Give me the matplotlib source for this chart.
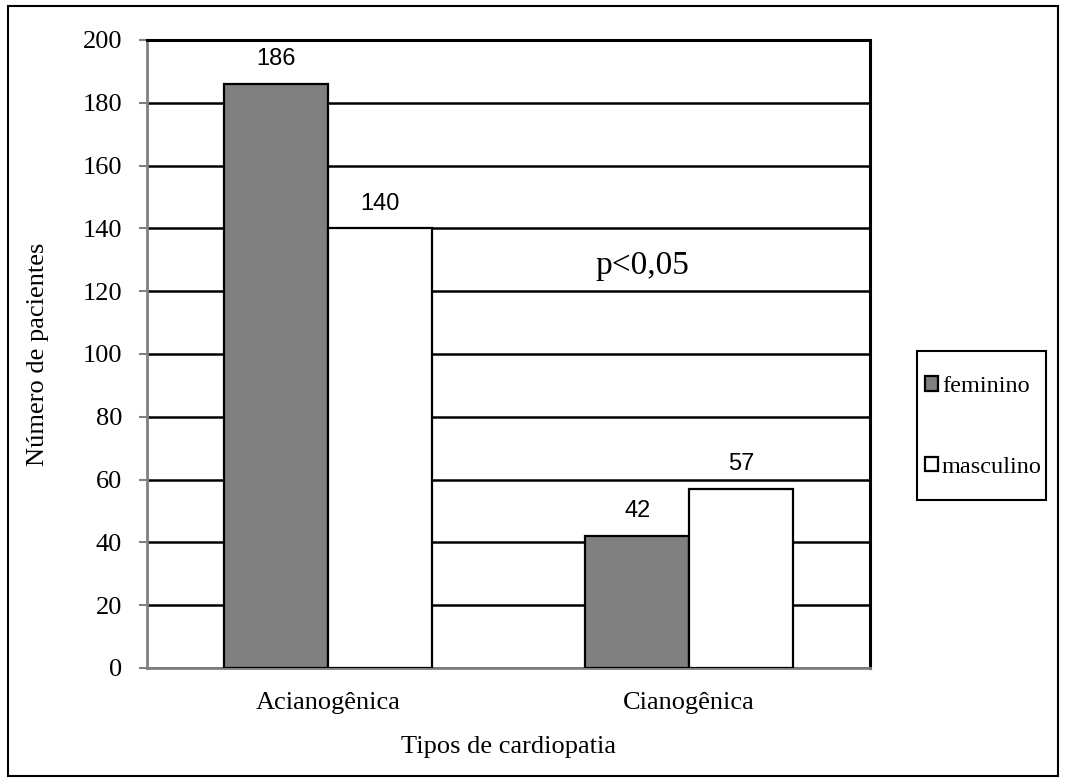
import numpy as np
import matplotlib.pyplot as plt
from matplotlib.patches import Rectangle

# dados
categorias = ['Acianogênica', 'Cianogênica']
feminino = [186, 42]
masculino = [140, 57]

plt.rcParams['font.family'] = ['Liberation Serif', 'DejaVu Serif']

fig = plt.figure(figsize=(10.65, 7.84), dpi=100)
ax = fig.add_axes([147/1065, 1-668/784, (870-147)/1065, (668-40)/784])

x = np.arange(len(categorias))
w = 0.2877
b1 = ax.bar(x - w/2, feminino, w, color='#808080', edgecolor='black', linewidth=1.6,
            label='feminino', zorder=3)
b2 = ax.bar(x + w/2, masculino, w, color='white', edgecolor='black', linewidth=1.6,
            label='masculino', zorder=3)

for bars in (b1, b2):
    for r in bars:
        ax.annotate(f'{int(r.get_height())}', (r.get_x() + r.get_width()/2, r.get_height()),
                    xytext=(0, 10), textcoords='offset points', ha='center', va='bottom',
                    fontsize=17, family=['Liberation Sans', 'DejaVu Sans'])

ax.set_xlim(-0.5, 1.5)
ax.set_ylim(0, 200)
ax.set_yticks(range(0, 201, 20))
ax.set_xticks(x)
ax.set_xticklabels(categorias)
ax.tick_params(axis='y', labelsize=19, color='#808080', length=6, width=1.5, pad=12)
ax.tick_params(axis='x', labelsize=19, length=0, pad=17)
ax.yaxis.grid(True, color='black', linewidth=1.8, zorder=0)
ax.set_axisbelow(True)

ax.spines['left'].set_color('#808080')
ax.spines['bottom'].set_color('#808080')
ax.spines['left'].set_linewidth(2)
ax.spines['bottom'].set_linewidth(2)
ax.spines['right'].set_color('black')
ax.spines['right'].set_linewidth(2.2)
ax.spines['top'].set_linewidth(2.2)

ax.set_ylabel('Número de pacientes', fontsize=19, labelpad=24)
ax.set_xlabel('Tipos de cardiopatia', fontsize=19, labelpad=16)

ax.text(0.74, 128, 'p<0,05', fontsize=24, ha='left', va='center',
        bbox=dict(facecolor='white', edgecolor='none', pad=2), zorder=4)

# legenda com moldura desenhada à parte
leg = fig.legend(loc='upper left', bbox_to_anchor=(925/1065, 1-376/784),
                 fontsize=17.5, frameon=False,
                 handlelength=0.55, handleheight=0.55, handletextpad=0.15,
                 labelspacing=2.45, borderpad=0, borderaxespad=0)
fig.patches.append(Rectangle((917/1065, 1-500/784), 129/1065, 149/784,
                             transform=fig.transFigure, fill=False,
                             edgecolor='black', linewidth=1.5))

fig.patches.append(Rectangle((8/1065, 1-776/784), 1050/1065, 770/784,
                             transform=fig.transFigure, fill=False,
                             edgecolor='black', linewidth=1.5))

fig.savefig('out.png', dpi=100)
